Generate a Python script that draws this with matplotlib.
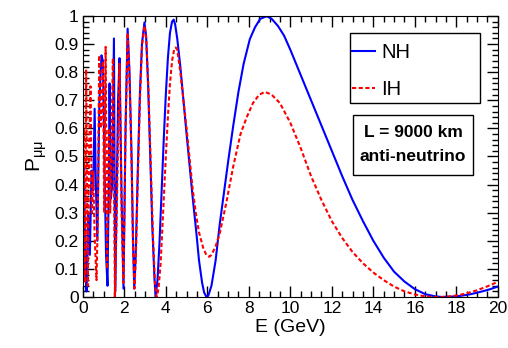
import matplotlib
matplotlib.use("Agg")
import matplotlib.pyplot as plt
from matplotlib.patches import Rectangle
from matplotlib.ticker import MultipleLocator, FixedLocator

plt.rcParams['font.family'] = ['Liberation Sans', 'DejaVu Sans']

# energy (GeV) and survival probability
e_nh = [0.0, 0.06, 0.12, 0.18, 0.26, 0.34, 0.42, 0.5, 0.57, 0.63, 0.7, 0.8,
        0.9, 0.97, 1.05, 1.12, 1.19, 1.25, 1.29, 1.35, 1.42, 1.5, 1.56, 1.62,
        1.7, 1.77, 1.87, 1.96, 2.06, 2.16, 2.25, 2.35, 2.42, 2.48, 2.55, 2.65,
        2.75, 2.85, 2.97, 3.05, 3.15, 3.25, 3.35, 3.45, 3.51,
        3.6, 3.7, 3.8, 3.9, 4.0, 4.1, 4.2, 4.3, 4.38, 4.45, 4.55, 4.7, 4.85,
        5.0, 5.15, 5.3, 5.47, 5.6, 5.75, 5.85, 5.96, 6.05, 6.2, 6.4, 6.6, 6.8,
        7.0, 7.25, 7.5, 7.75, 8.05, 8.3, 8.55, 8.86, 9.1, 9.4, 9.7, 10.0,
        10.5, 11.0, 11.5, 12.0, 12.5, 13.0, 13.5, 14.0, 14.5, 15.0, 15.5,
        16.0, 16.5, 17.0, 17.3, 17.7, 18.2, 18.7, 19.2, 19.6, 20.0]
p_nh = [0.40, 0.47, 0.10, 0.02, 0.30, 0.15, 0.45, 0.38, 0.67, 0.40, 0.20, 0.70,
        0.86, 0.84, 0.45, 0.15, 0.04, 0.40, 0.76, 0.35, 0.40, 0.92, 0.02, 0.30,
        0.70, 0.85, 0.35, 0.03, 0.60, 0.955, 0.80, 0.50, 0.20, 0.03, 0.15, 0.45,
        0.72, 0.90, 0.977, 0.93, 0.75, 0.50, 0.25, 0.07, 0.0,
        0.06, 0.20, 0.38, 0.56, 0.72, 0.85, 0.94, 0.98, 0.987, 0.97, 0.92, 0.82,
        0.70, 0.58, 0.465, 0.35, 0.23, 0.13, 0.05, 0.015, 0.0, 0.005, 0.04,
        0.13, 0.26, 0.37, 0.48, 0.61, 0.73, 0.83, 0.918, 0.96, 0.99, 0.999,
        0.99, 0.965, 0.93, 0.88, 0.79, 0.70, 0.61, 0.52, 0.43, 0.345, 0.27,
        0.20, 0.14, 0.09, 0.055, 0.028, 0.01, 0.002, 0.0, 0.001, 0.004, 0.01,
        0.019, 0.027, 0.037]

e_ih = [0.0, 0.05, 0.1, 0.16, 0.24, 0.3, 0.37, 0.44, 0.5, 0.57, 0.66, 0.72,
        0.79, 0.87, 0.97, 1.03, 1.1, 1.17, 1.25, 1.32, 1.45, 1.55, 1.65, 1.77,
        1.87, 1.96, 2.06, 2.16, 2.25, 2.35, 2.42, 2.49, 2.56, 2.66, 2.76, 2.86,
        2.97, 3.06, 3.16, 3.27, 3.38, 3.48, 3.56,
        3.65, 3.75, 3.87, 4.0, 4.1, 4.2, 4.3, 4.4, 4.48, 4.55, 4.7, 4.85, 5.0,
        5.15, 5.3, 5.47, 5.6, 5.8, 5.95, 6.09, 6.2, 6.4, 6.6, 6.9, 7.25, 7.6,
        7.9, 8.2, 8.5, 8.78, 9.1, 9.5, 10.0, 10.5, 11.0, 11.5, 12.0, 12.5,
        13.0, 13.5, 14.0, 14.5, 15.0, 15.5, 16.0, 16.5, 16.9, 17.3, 17.8,
        18.2, 18.6, 19.0, 19.5, 20.0]
p_ih = [0.25, 0.60, 0.05, 0.81, 0.04, 0.50, 0.75, 0.30, 0.45, 0.22, 0.06, 0.27,
        0.86, 0.60, 0.84, 0.30, 0.89, 0.10, 0.60, 0.30, 0.85, 0.0, 0.35, 0.83,
        0.30, 0.05, 0.60, 0.94, 0.78, 0.48, 0.18, 0.03, 0.15, 0.45, 0.72, 0.90,
        0.965, 0.92, 0.74, 0.48, 0.22, 0.05, 0.0,
        0.03, 0.12, 0.30, 0.50, 0.64, 0.76, 0.84, 0.88, 0.888, 0.88, 0.80, 0.70,
        0.60, 0.49, 0.38, 0.286, 0.23, 0.175, 0.15, 0.143, 0.15, 0.18, 0.227,
        0.33, 0.465, 0.58, 0.64, 0.69, 0.72, 0.73, 0.72, 0.69, 0.62, 0.53,
        0.43, 0.345, 0.27, 0.21, 0.16, 0.12, 0.087, 0.06, 0.037, 0.02, 0.009,
        0.002, 0.0, 0.0, 0.003, 0.008, 0.015, 0.024, 0.038, 0.054]

fig = plt.figure(figsize=(5.08, 3.48), dpi=100)
ax = fig.add_axes([0.163, 0.1466, 0.817, 0.8074])

ax.plot(e_nh, p_nh, color='#0000ff', lw=1.5, label='NH')
ax.plot(e_ih, p_ih, color='#ff0000', lw=1.5, ls=(0, (2, 1.2)), label='IH')

ax.set_xlim(0, 20)
ax.set_ylim(0, 1)
ax.xaxis.set_major_locator(MultipleLocator(2))
ax.xaxis.set_minor_locator(MultipleLocator(0.5))
ax.yaxis.set_major_locator(FixedLocator([i / 10 for i in range(11)]))
ax.yaxis.set_minor_locator(MultipleLocator(0.02))
ax.set_yticklabels(['0', '0.1', '0.2', '0.3', '0.4', '0.5', '0.6', '0.7',
                    '0.8', '0.9', '1'])
ax.tick_params(which='both', direction='in', top=True, right=True,
               labelsize=12.5, pad=3)
ax.tick_params(which='major', length=8, width=1)
ax.tick_params(which='minor', length=4, width=1)

ax.set_xlabel('E (GeV)', fontsize=14, labelpad=2)
ax.set_ylabel(r'P$_{\mathregular{μμ}}$', fontsize=15, labelpad=4)

# legend box (ROOT style, square frame)
ax.add_patch(Rectangle((0.643, 0.690), 0.313, 0.249, transform=ax.transAxes,
                       fc='white', ec='black', lw=1, zorder=4))
leg = ax.legend(loc='upper left', bbox_to_anchor=(0.648, 0.905), fontsize=14.5,
                frameon=False, handlelength=1.15, handletextpad=0.3,
                borderpad=0, labelspacing=0.9, borderaxespad=0)
leg.set_zorder(5)

ax.add_patch(Rectangle((0.651, 0.434), 0.289, 0.2135, transform=ax.transAxes,
                       fc='white', ec='black', lw=1, zorder=4))
ax.text(0.7955, 0.541, 'L = 9000 km\nanti-neutrino', transform=ax.transAxes,
        ha='center', va='center', fontsize=12.5, fontweight='bold',
        linespacing=1.75, zorder=5)

fig.savefig('out.png', dpi=100)
